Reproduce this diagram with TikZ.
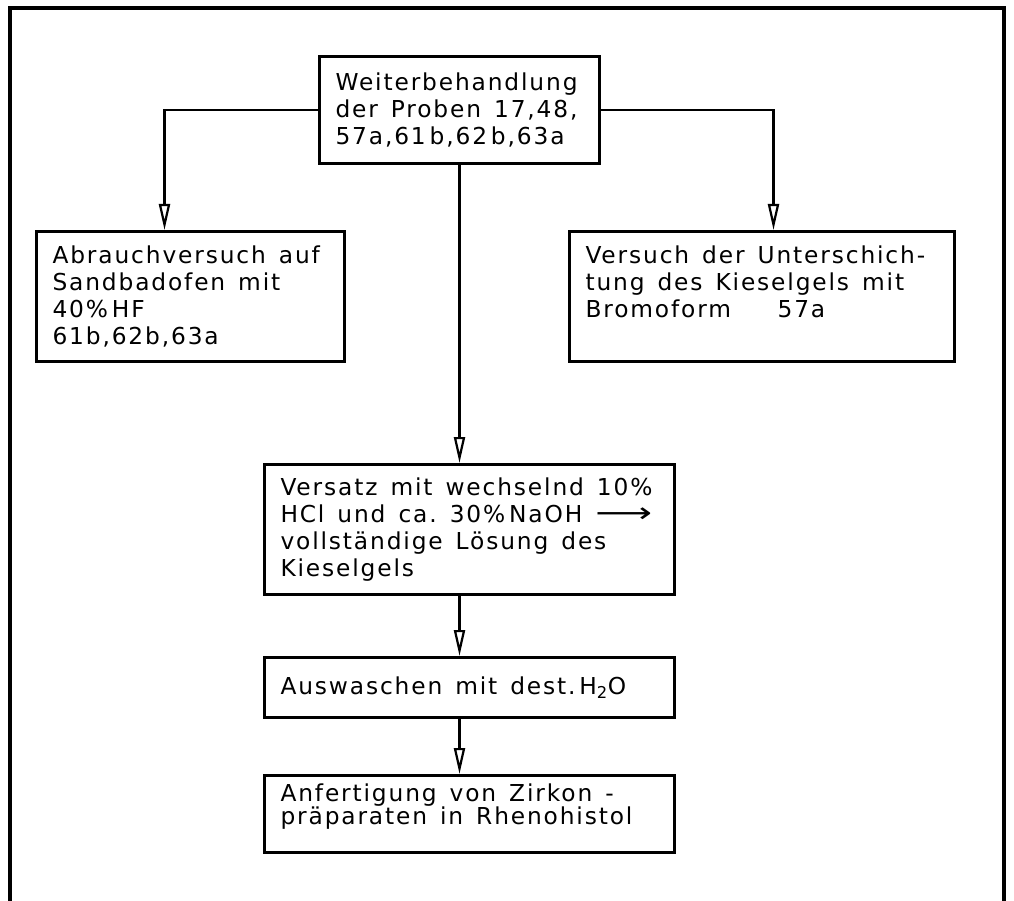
\documentclass[tikz,border=0pt]{standalone}
\usepackage{fontspec}
\setmainfont{DejaVu Sans}[LetterSpace=8]
\newfontfamily\arrowfont{DejaVu Sans}
\usetikzlibrary{arrows.meta,positioning}
\hyphenpenalty=10000
\frenchspacing
\newcommand\boxfont[1]{\fontsize{23.3pt}{#1}\selectfont}

\tikzset{
  box/.style={draw, line width=3pt, inner xsep=16pt, inner ysep=0pt, align=left,
    font=\boxfont{27pt}, execute at begin node={\setlength\spaceskip{13pt plus 2pt}}},
  flow/.style={line width=2.6pt, -{Triangle[open, length=26pt, width=11pt, line width=2.2pt]}},
}

\begin{document}
\begin{tikzpicture}[x=1pt, y=-1pt, node distance=60pt]
  \useasboundingbox (0,0) rectangle (1014,901);
  \draw[line width=4pt] (10,901) -- (10,8) -- (1004,8) -- (1004,901);

  \node[box, anchor=north west, minimum width=280pt, minimum height=107pt, text width=248pt] (proben) at (318,55)
    {Weiterbehandlung\\der~Proben~17,48,\\57a,61\,b,62\,b,63a};
  \node[box, anchor=north west, minimum width=308pt, minimum height=130pt, text width=276pt] (abrauch) at (35,230)
    {Abrauchversuch~auf\\Sandbadofen~mit\\40\%\,HF\\61b,62b,63a};
  \node[box, anchor=north west, minimum width=385pt, minimum height=130pt, text width=353pt] (versuch) at (568,230)
    {Versuch~der~Unterschich-\\tung~des~Kieselgels~mit\\Bromoform\qquad57a\rule[-30pt]{0pt}{30pt}};
  \node[box, anchor=north west, minimum width=410pt, minimum height=130pt, text width=378pt] (versatz) at (263,463)
    {Versatz~mit~wechselnd~10\%\\HCl~und~ca.~30\%\,NaOH~\scalebox{1.7}[1.2]{\arrowfont ⟶}\\vollständige~Lösung~des\\Kieselgels};
  \node[box, minimum width=410pt, minimum height=60pt, text width=378pt] (auswaschen) [below=of versatz]
    {Auswaschen~mit~dest.\,H\textsubscript{2}O};
  \node[box, minimum width=410pt, minimum height=77pt, text width=378pt,
    font=\boxfont{23pt}] (anfertigung) [below=55pt of auswaschen]
    {Anfertigung~von~Zirkon~-\\präparaten~in~Rhenohistol\rule[-20pt]{0pt}{20pt}};

  \draw[flow] (proben.west) -| ([xshift=-26pt]abrauch.north);
  \draw[flow] (proben.east) -| ([xshift=11.5pt]versuch.north);
  \draw[flow] (proben.south) -- (proben.south |- versatz.north);
  \draw[flow] (versatz.south -| proben.south) -- (auswaschen.north -| proben.south);
  \draw[flow] (auswaschen.south -| proben.south) -- (anfertigung.north -| proben.south);
\end{tikzpicture}
\end{document}
